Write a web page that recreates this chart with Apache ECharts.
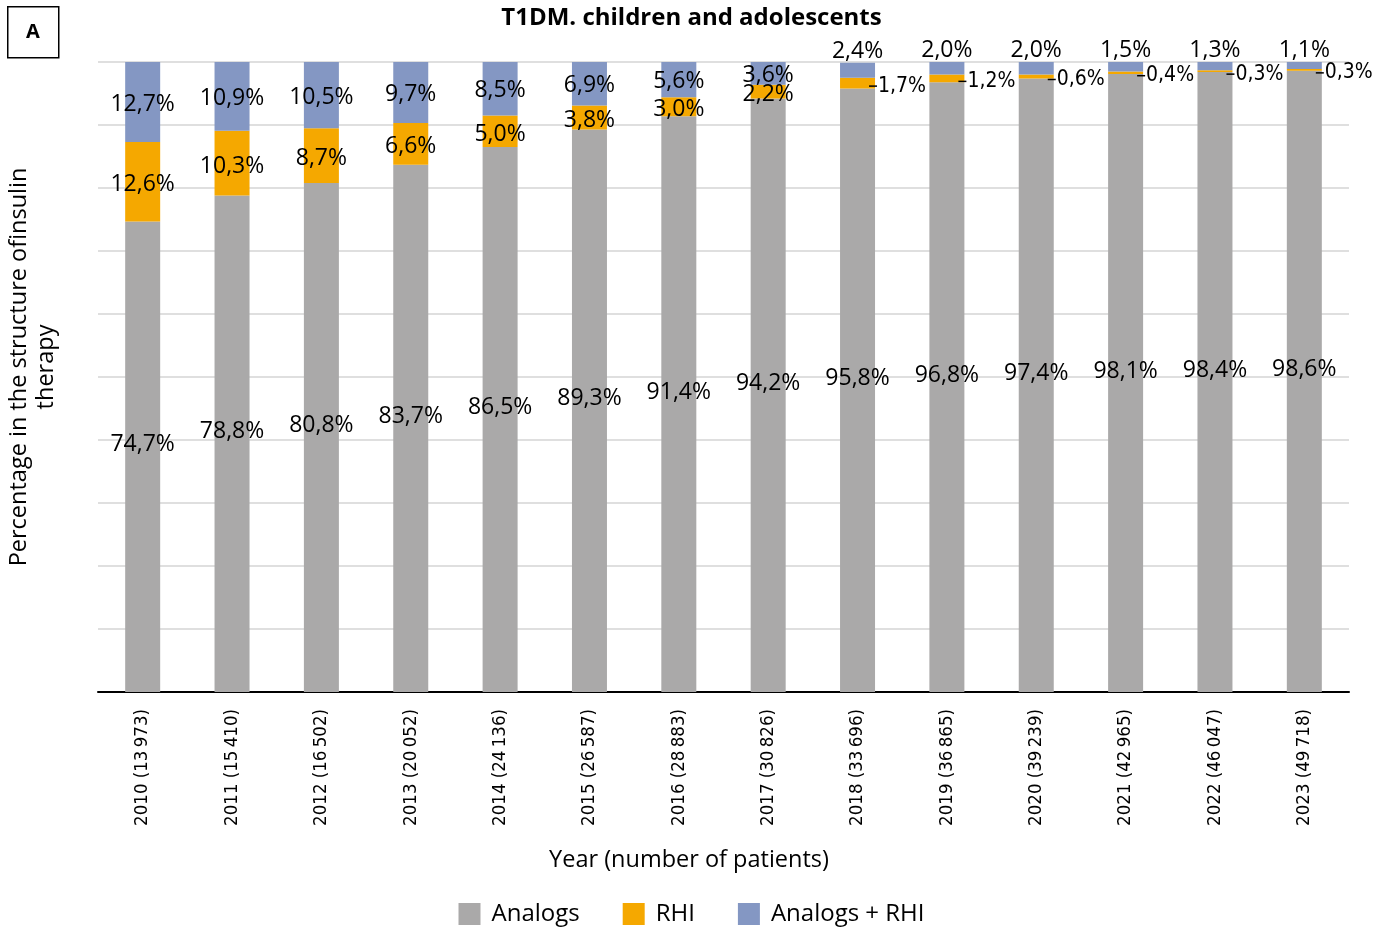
<!DOCTYPE html>
<html>
<head>
<meta charset="utf-8">
<script src="https://cdn.jsdelivr.net/npm/echarts@6/dist/echarts.min.js"></script>
<style>
html,body{margin:0;padding:0;background:#fff;}
#chart{width:1383px;height:929px;}
</style>
</head>
<body>
<div id="chart"></div>
<script>
const categories = ['2010 (13\u2009973)','2011 (15\u2009410)','2012 (16\u2009502)','2013 (20\u2009052)','2014 (24\u2009136)','2015 (26\u2009587)','2016 (28\u2009883)','2017 (30\u2009826)','2018 (33\u2009696)','2019 (36\u2009865)','2020 (39\u2009239)','2021 (42\u2009965)','2022 (46\u2009047)','2023 (49\u2009718)'];
const analogs = [74.7,78.8,80.8,83.7,86.5,89.3,91.4,94.2,95.8,96.8,97.4,98.1,98.4,98.6];
const rhi = [12.6,10.3,8.7,6.6,5.0,3.8,3.0,2.2,1.7,1.2,0.6,0.4,0.3,0.3];
const combo = [12.7,10.9,10.5,9.7,8.5,6.9,5.6,3.6,2.4,2.0,2.0,1.5,1.3,1.1];
const seriesNames = ['Analogs','RHI','Analogs + RHI'];

const fmt = v => v.toFixed(1).replace('.', ',') + '%';
const mainFont = "'Open Sans', sans-serif";
const narrowFont = "'Liberation Sans Narrow', 'DejaVu Sans Condensed', 'Open Sans', sans-serif";

const rhiData = rhi.map((v, i) => {
  if (i >= 8) {
    return {
      value: v,
      label: {
        position: 'right', distance: 0, offset: [-6, 3],
        formatter: p => '{ln| }{t|' + fmt(p.value) + '}',
        rich: {
          ln: {width: 8, height: 1.5, backgroundColor: '#000'},
          t: {fontFamily: narrowFont, fontSize: 21, color: '#000', padding: [0,0,0,1]}
        }
      }
    };
  }
  return {value: v};
});
const comboData = combo.map((v, i) => {
  if (i >= 8) {
    return {value: v, label: {position: 'top', distance: 0, offset: [0, 0]}};
  }
  return {value: v};
});

const chart = echarts.init(document.getElementById('chart'));
chart.setOption({
  animation: false,
  title: {
    text: 'T1DM. children and adolescents',
    left: 'center', top: 1,
    textStyle: {fontFamily: mainFont, fontWeight: 'bold', fontSize: 24, color: '#000'}
  },
  grid: {left: 98, right: 34, top: 62, bottom: 237},
  legend: {
    data: seriesNames,
    top: 897, left: 'center',
    itemWidth: 22, itemHeight: 22, itemGap: 43,
    icon: 'rect',
    textStyle: {fontFamily: mainFont, fontSize: 24, color: '#000', padding: [0,0,0,6]}
  },
  xAxis: {
    type: 'category',
    data: categories,
    axisLine: {lineStyle: {color: '#000', width: 2}},
    axisTick: {show: false},
    axisLabel: {rotate: 90, margin: 17, fontFamily: narrowFont, fontSize: 18.5, color: '#000', interval: 0}
  },
  yAxis: {
    type: 'value', min: 0, max: 100, interval: 10,
    axisLabel: {show: false},
    axisLine: {show: false},
    axisTick: {show: false},
    splitLine: {lineStyle: {color: '#d4d4d4', width: 1.5}}
  },
  series: [
    {
      name: seriesNames[0], type: 'bar', stack: 'a', barWidth: 35,
      itemStyle: {color: '#aaa9a9'},
      label: {show: true, position: 'inside', offset: [0, -12], fontFamily: mainFont, fontSize: 23, color: '#000', formatter: p => fmt(p.value)},
      data: analogs
    },
    {
      name: seriesNames[1], type: 'bar', stack: 'a', barWidth: 35,
      itemStyle: {color: '#f5a800'},
      label: {show: true, position: 'inside', offset: [0, 3], fontFamily: mainFont, fontSize: 23, color: '#000', formatter: p => fmt(p.value)},
      data: rhiData
    },
    {
      name: seriesNames[2], type: 'bar', stack: 'a', barWidth: 35,
      itemStyle: {color: '#8497c3'},
      label: {show: true, position: 'inside', offset: [0, 2], fontFamily: mainFont, fontSize: 23, color: '#000', formatter: p => fmt(p.value)},
      data: comboData
    }
  ],
  graphic: [
    {type: 'rect', left: 7, top: 6, shape: {width: 51, height: 51}, style: {fill: '#fff', stroke: '#000', lineWidth: 1.5}},
    {type: 'text', x: 33, y: 32, style: {text: 'A', fontFamily: mainFont, fontWeight: 'bold', fontSize: 20, fill: '#000', align: 'center', verticalAlign: 'middle'}},
    {type: 'text', x: 689, y: 860, style: {text: 'Year (number of patients)', fontFamily: mainFont, fontSize: 23.5, fill: '#000', align: 'center', verticalAlign: 'middle'}},
    {type: 'text', x: 33, y: 367, rotation: Math.PI / 2, style: {text: 'Percentage in the structure ofinsulin\ntherapy', fontFamily: mainFont, fontSize: 23.5, lineHeight: 27, fill: '#000', align: 'center', verticalAlign: 'middle'}}
  ]
});
</script>
</body>
</html>
